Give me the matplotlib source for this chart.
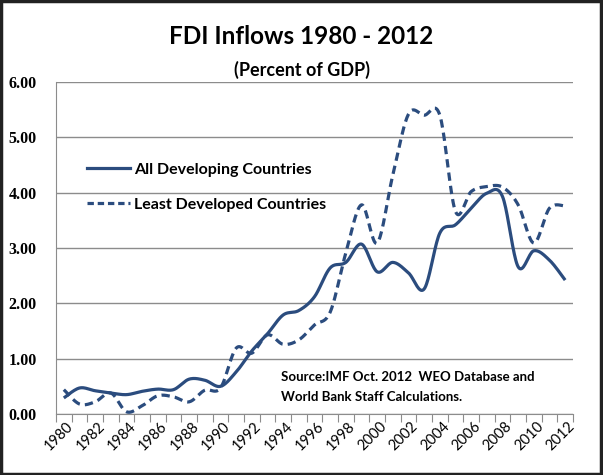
import numpy as np
import matplotlib
matplotlib.use("Agg")
import matplotlib.pyplot as plt
from matplotlib.patches import Rectangle
from matplotlib.lines import Line2D

years = list(range(1980, 2013))
all_developing = [0.29, 0.47, 0.42, 0.38, 0.35, 0.41, 0.45, 0.44, 0.63, 0.61, 0.50,
                  0.76, 1.14, 1.45, 1.79, 1.87, 2.12, 2.64, 2.74, 3.07, 2.57, 2.74,
                  2.55, 2.26, 3.27, 3.42, 3.72, 3.99, 3.93, 2.66, 2.95, 2.78, 2.42]
least_developed = [0.44, 0.18, 0.22, 0.38, 0.04, 0.15, 0.33, 0.31, 0.22, 0.43, 0.47,
                   1.19, 1.10, 1.43, 1.26, 1.34, 1.61, 1.84, 2.91, 3.78, 3.09, 4.32,
                   5.42, 5.40, 5.40, 3.66, 4.02, 4.11, 4.10, 3.78, 3.09, 3.72, 3.76]
series_names = ["All Developing Countries", "Least Developed Countries"]
yticks = [0, 1, 2, 3, 4, 5, 6]


def smooth(x, y, n=20):
    """Excel-style smoothed line (Bezier through points, tension 1/6)."""
    x = np.asarray(x, float); y = np.asarray(y, float)
    xs, ys = [], []
    for i in range(len(x) - 1):
        p0 = np.array([x[max(i - 1, 0)], y[max(i - 1, 0)]])
        p1 = np.array([x[i], y[i]])
        p2 = np.array([x[i + 1], y[i + 1]])
        p3 = np.array([x[min(i + 2, len(x) - 1)], y[min(i + 2, len(x) - 1)]])
        c1 = p1 + (p2 - p0) / 6.0
        c2 = p2 - (p3 - p1) / 6.0
        t = np.linspace(0, 1, n, endpoint=(i == len(x) - 2))[:, None]
        pts = ((1 - t) ** 3) * p1 + 3 * ((1 - t) ** 2) * t * c1 + 3 * (1 - t) * t ** 2 * c2 + t ** 3 * p2
        xs.extend(pts[:, 0]); ys.extend(pts[:, 1])
    return np.array(xs), np.array(ys)


color = "#2b4c7e"
fig = plt.figure(figsize=(6.03, 4.75), dpi=100)
ax = fig.add_axes([56 / 603, 1 - 414 / 475, (573 - 56) / 603, (414 - 82) / 475])

idx = np.arange(len(years))
sx, sy = smooth(idx, all_developing)
ax.plot(sx, sy, color=color, lw=2.3, solid_capstyle="butt", zorder=3)
dx, dy = smooth(idx, least_developed)
ax.plot(dx, dy, color=color, lw=2.3, dashes=(2.6, 1.6), zorder=3)

ax.set_xlim(-0.5, len(years) - 0.5)
ax.set_ylim(0, 6)
ax.set_yticks(yticks)
ax.set_yticklabels([f"{v:.2f}" for v in yticks], fontfamily="Liberation Serif",
                   fontweight="bold", fontsize=11.5)
ax.yaxis.grid(True, color="#8c8c8c", lw=1)
ax.set_axisbelow(True)
ax.tick_params(axis="y", length=0, pad=14)

ax.set_xticks(np.arange(-0.5, len(years), 1.0), minor=False)
ax.set_xticklabels([])
ax.tick_params(axis="x", length=6, color="#8c8c8c", direction="out")
for i, yr in enumerate(years):
    if yr % 2 == 0:
        ax.text(i + 0.15, -0.1, str(yr), rotation=45, ha="right", va="top",
                rotation_mode="anchor", fontsize=10.5, fontfamily="Lato",
                transform=ax.transData)

for s in ["top", "right"]:
    ax.spines[s].set_visible(False)
ax.spines["left"].set_color("#8c8c8c")
ax.spines["bottom"].set_color("#8c8c8c")

handles = [Line2D([], [], color=color, lw=2.3),
           Line2D([], [], color=color, lw=2.3, dashes=(2.0, 1.2))]
leg = ax.legend(handles, series_names, loc="upper left", bbox_to_anchor=(0.032, 0.80),
                frameon=False, handlelength=2.7, handletextpad=0.25, labelspacing=1.3,
                prop={"family": "Lato", "weight": "bold", "size": 11.5})

ax.text(0.436, 0.082, "Source:IMF Oct. 2012  WEO Database and\nWorld Bank Staff Calculations.",
        transform=ax.transAxes, fontsize=9.5, fontweight="bold", fontfamily="Lato",
        ha="left", va="center", linespacing=1.75)

fig.text(0.5, 1 - 36 / 475, "FDI Inflows 1980 - 2012", ha="center", va="center",
         fontsize=17.5, fontweight="bold", fontfamily="Lato")
fig.text(0.5, 1 - 70 / 475, "(Percent of GDP)", ha="center", va="center",
         fontsize=13, fontweight="bold", fontfamily="Lato")

fig.patches.append(Rectangle((0.002, 0.003), 0.995, 0.994, transform=fig.transFigure,
                             fill=False, edgecolor="#222222", lw=2.5))

fig.savefig("out.png", dpi=100)
